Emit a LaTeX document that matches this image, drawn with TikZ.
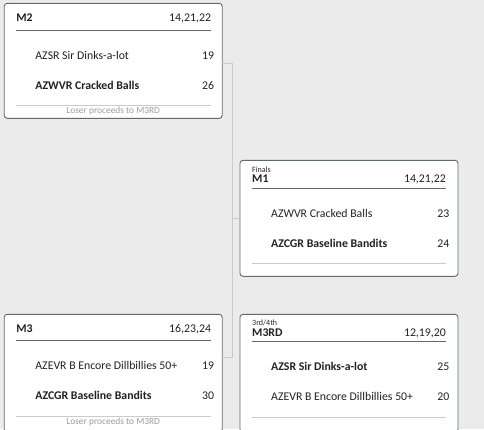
\documentclass[tikz,border=0pt]{standalone}
\usepackage{fontspec}
\setmainfont{Carlito}
\usepackage{tikz}
\usetikzlibrary{positioning}
\usepackage{xcolor}
\definecolor{pagebg}{HTML}{EBEBEB}
\definecolor{frame}{HTML}{5F6F5F}
\definecolor{faint}{HTML}{CBCBCB}
\definecolor{notegrey}{HTML}{9C9C9C}
\definecolor{ink}{HTML}{222222}

\begin{document}
\begin{tikzpicture}[%
    x=1pt,
    y=-1pt,
    box/.style={%
      rectangle,
      rounded corners=3pt,
      draw=frame,
      line width=0.9pt,
      fill=white,
      minimum width=218pt,
      outer sep=0pt,
      inner sep=0pt
    },
    label/.style={inner sep=0pt, text=ink, font=\fontsize{11.8}{14}\selectfont},
    mid/.style={label, font=\fontsize{11.8}{14}\selectfont\bfseries},
    winner/.style={label, font=\fontsize{11.8}{14}\selectfont\bfseries},
    tag/.style={inner sep=0pt, text=ink, font=\fontsize{8}{9}\selectfont},
    note/.style={inner sep=0pt, text=notegrey, font=\fontsize{9.4}{10}\selectfont},
    headrule/.style={draw=frame, line width=0.9pt},
    footrule/.style={draw=faint, line width=0.9pt},
    link/.style={draw=faint, line width=0.9pt}
  ]
    \fill[pagebg] (0,0) rectangle (484,429);
    \useasboundingbox (0,0) rectangle (484,429);
    \clip (0,0) rectangle (484,429);

    \node[box, minimum height=115pt] (m2)   at (113.2,60.8)  {};
    \node[box, minimum height=116pt] (m1)   at (349,218.3)   {};
    \node[box, minimum height=118pt] (m3)   at (113.2,373.3) {};
    \node[box, minimum height=118pt] (m3rd) at (349,373.3)   {};

    \node[mid, anchor=base west]   (m2id)    at ([xshift=12pt,yshift=-17.7pt]m2.north west)  {M2};
    \node[label, anchor=base east] (m2sets)  at ([xshift=-11pt,yshift=-17.7pt]m2.north east) {14,21,22};
    \draw[headrule] ([xshift=12pt,yshift=-27pt]m2.north west) -- ([xshift=-11pt,yshift=-27pt]m2.north east);
    \node[label, anchor=base west]  (m2a)      at ([xshift=31pt,yshift=-56pt]m2.north west) {AZSR Sir Dinks-a-lot};
    \node[label, anchor=base east]  (m2ascore) at ([xshift=-8pt,yshift=-56pt]m2.north east) {19};
    \node[winner, anchor=base west] (m2b)      at ([xshift=31pt,yshift=-86pt]m2.north west) {AZWVR Cracked Balls};
    \node[label, anchor=base east]  (m2bscore) at ([xshift=-8pt,yshift=-86pt]m2.north east) {26};
    \draw[footrule] ([xshift=12pt,yshift=-102pt]m2.north west) -- ([xshift=-11pt,yshift=-102pt]m2.north east);
    \node[note, anchor=base] (m2note) at ([yshift=-110pt]m2.north) {Loser proceeds to M3RD};

    \node[tag, anchor=base west]   (m1tag)   at ([xshift=12pt,yshift=-11.8pt]m1.north west)  {Finals};
    \node[mid, anchor=base west]   (m1id)    at ([xshift=12pt,yshift=-22.4pt]m1.north west)  {M1};
    \node[label, anchor=base east] (m1sets)  at ([xshift=-12pt,yshift=-22.4pt]m1.north east) {14,21,22};
    \draw[headrule] ([xshift=12pt,yshift=-28pt]m1.north west) -- ([xshift=-12pt,yshift=-28pt]m1.north east);
    \node[label, anchor=base west]  (m1a)      at ([xshift=31pt,yshift=-57pt]m1.north west) {AZWVR Cracked Balls};
    \node[label, anchor=base east]  (m1ascore) at ([xshift=-8.5pt,yshift=-57pt]m1.north east) {23};
    \node[winner, anchor=base west] (m1b)      at ([xshift=31pt,yshift=-87pt]m1.north west) {AZCGR Baseline Bandits};
    \node[label, anchor=base east]  (m1bscore) at ([xshift=-8.5pt,yshift=-87pt]m1.north east) {24};
    \draw[footrule] ([xshift=12pt,yshift=-103pt]m1.north west) -- ([xshift=-12pt,yshift=-103pt]m1.north east);

    \node[mid, anchor=base west]   (m3id)    at ([xshift=12pt,yshift=-18.4pt]m3.north west)  {M3};
    \node[label, anchor=base east] (m3sets)  at ([xshift=-11pt,yshift=-18.4pt]m3.north east) {16,23,24};
    \draw[headrule] ([xshift=12pt,yshift=-26.6pt]m3.north west) -- ([xshift=-11pt,yshift=-26.6pt]m3.north east);
    \node[label, anchor=base west]  (m3a)      at ([xshift=31pt,yshift=-55.5pt]m3.north west) {AZEVR B Encore Dillbillies 50+};
    \node[label, anchor=base east]  (m3ascore) at ([xshift=-8pt,yshift=-55.5pt]m3.north east) {19};
    \node[winner, anchor=base west] (m3b)      at ([xshift=31pt,yshift=-85.5pt]m3.north west) {AZCGR Baseline Bandits};
    \node[label, anchor=base east]  (m3bscore) at ([xshift=-8pt,yshift=-85.5pt]m3.north east) {30};
    \draw[footrule] ([xshift=12pt,yshift=-102.5pt]m3.north west) -- ([xshift=-11pt,yshift=-102.5pt]m3.north east);
    \node[note, anchor=base] (m3note) at ([yshift=-110pt]m3.north) {Loser proceeds to M3RD};

    \node[tag, anchor=base west]   (m3rdtag)  at ([xshift=12pt,yshift=-10.8pt]m3rd.north west)  {3rd/4th};
    \node[mid, anchor=base west]   (m3rdid)   at ([xshift=12pt,yshift=-21.7pt]m3rd.north west)  {M3RD};
    \node[label, anchor=base east] (m3rdsets) at ([xshift=-12pt,yshift=-21.7pt]m3rd.north east) {12,19,20};
    \draw[headrule] ([xshift=12pt,yshift=-27pt]m3rd.north west) -- ([xshift=-12pt,yshift=-27pt]m3rd.north east);
    \node[winner, anchor=base west] (m3rda)      at ([xshift=31pt,yshift=-55.7pt]m3rd.north west) {AZSR Sir Dinks-a-lot};
    \node[label, anchor=base east]  (m3rdascore) at ([xshift=-8.5pt,yshift=-55.7pt]m3rd.north east) {25};
    \node[label, anchor=base west]  (m3rdb)      at ([xshift=31pt,yshift=-85.7pt]m3rd.north west) {AZEVR B Encore Dillbillies 50+};
    \node[label, anchor=base east]  (m3rdbscore) at ([xshift=-8.5pt,yshift=-85.7pt]m3rd.north east) {20};
    \draw[footrule] ([xshift=12pt,yshift=-103pt]m3rd.north west) -- ([xshift=-12pt,yshift=-103pt]m3rd.north east);

    \coordinate (fork) at ([xshift=-7.8pt]m1.west);
    \draw[link] ([yshift=-2.2pt]m2.east) -| (fork) |- ([yshift=16.3pt]m3.east);
    \draw[link] (fork) -- (m1.west);
  \end{tikzpicture}
\end{document}
